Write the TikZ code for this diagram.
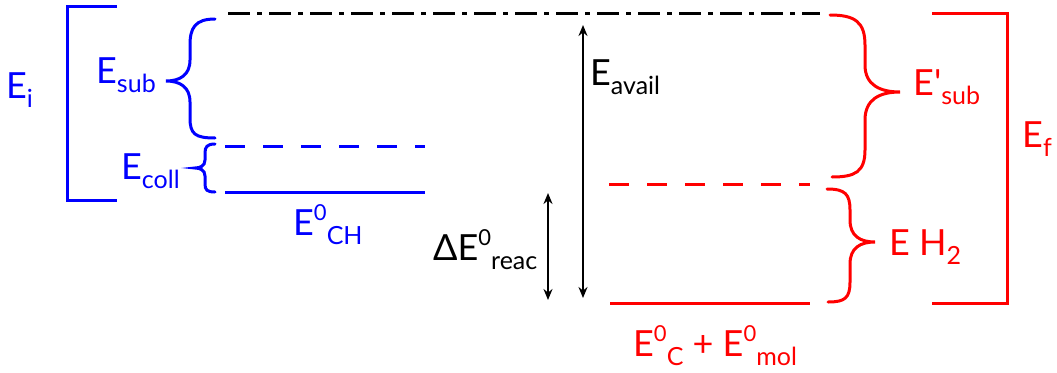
\documentclass[tikz,border=0pt]{standalone}
\usepackage{fontspec}
\setmainfont{Lato}
\usetikzlibrary{arrows.meta}
\definecolor{pblue}{RGB}{0,0,255}
\definecolor{pred}{RGB}{255,0,0}
\newcommand\dn[1]{\raisebox{-9pt}{\fontsize{25}{25}\selectfont #1}}
\newcommand\up[1]{\raisebox{15pt}{\fontsize{22}{22}\selectfont #1}}
\begin{document}
\begin{tikzpicture}[x=1pt,y=-1pt,
  lbl/.style={inner sep=0pt,anchor=base west,font=\fontsize{36}{36}\selectfont},
  thick line/.style={line width=3pt},
  brace line/.style={line width=3pt,line cap=round},
  level dash/.style={line width=3pt,dash pattern=on 20pt off 18pt},
  dashdot/.style={line width=3pt,dash pattern=on 22pt off 7pt on 5pt off 7pt},
  darrow/.style={line width=2.5pt,{Stealth[length=11pt,width=9pt]}-{Stealth[length=11pt,width=9pt]}}]
\useasboundingbox (0,0) rectangle (1057,372);

% ---------- left (blue) ----------
\draw[pblue,thick line] (117,6) -- (67,6) -- (67,200) -- (117,200);
\node[lbl,text=pblue] (Ei) at (6,98) {E\dn{i}};

\draw[pblue,brace line] (215,19) .. controls (195,19) and (190,28) .. (190,45) -- (190,60)
  .. controls (190,75) and (180,81) .. (166,81) .. controls (180,81) and (190,87) .. (190,102)
  -- (190,118) .. controls (190,134) and (195,138) .. (215,138);
\node[lbl,text=pblue] (Esub) at (96,83) {E\dn{sub}};

\draw[pblue,brace line] (215,144) .. controls (207,144) and (205,147) .. (205,153) -- (205,160)
  .. controls (205,166) and (200,168) .. (195,168) .. controls (200,168) and (205,170) .. (205,176)
  -- (205,184) .. controls (205,190) and (207,192) .. (215,192);
\node[lbl,text=pblue] (Ecoll) at (121,179) {E\dn{coll}};

\draw[pblue,level dash] (225,146) -- (425,146);
\draw[pblue,thick line] (225,192) -- (425,192);
\node[lbl,text=pblue] (ECH) at (293,235) {E\up{0}\dn{CH}};

% ---------- top dash-dot ----------
\draw[dashdot] (228,13) -- (820,13);

% ---------- arrows ----------
\coordinate (avT) at (583,25);
\coordinate (avB) at (583,298);
\draw[darrow] (avT) -- (avB);
\node[lbl] (Eavail) at (590,85) {E\dn{avail}};

\coordinate (reT) at (548,193);
\coordinate (reB) at (548,300);
\draw[darrow] (reT) -- (reB);
\node[lbl] (Ereac) at (433,260) {ΔE\up{0}\dn{reac}};

% ---------- right (red) ----------
\draw[pred,level dash] (609,184) -- (810,184);
\draw[pred,thick line] (610,303) -- (810,303);
\node[lbl,text=pred] (EC) at (633,356) {E\up{0}\dn{C} + E\up{0}\dn{mol}};

\draw[pred,brace line] (830,15) .. controls (855,15) and (865,22) .. (865,45) -- (865,65)
  .. controls (865,85) and (880,92) .. (900,92) .. controls (880,92) and (865,99) .. (865,120)
  -- (865,150) .. controls (865,172) and (855,177) .. (832,177);
\node[lbl,text=pred] (Esubp) at (913,95) {E\textquotesingle\dn{sub}};

\draw[pred,brace line] (827,189) .. controls (845,189) and (850,194) .. (850,210) -- (850,220)
  .. controls (850,236) and (860,242) .. (875,242) .. controls (860,242) and (850,248) .. (850,264)
  -- (850,282) .. controls (850,298) and (845,302) .. (828,302);
\node[lbl,text=pred] (EH2) at (889,255) {E H\dn{2}};

\draw[pred,thick line] (932,13) -- (1007,13) -- (1007,303) -- (932,303);
\node[lbl,text=pred] (Ef) at (1022,147) {E\dn{f}};
\end{tikzpicture}
\end{document}
